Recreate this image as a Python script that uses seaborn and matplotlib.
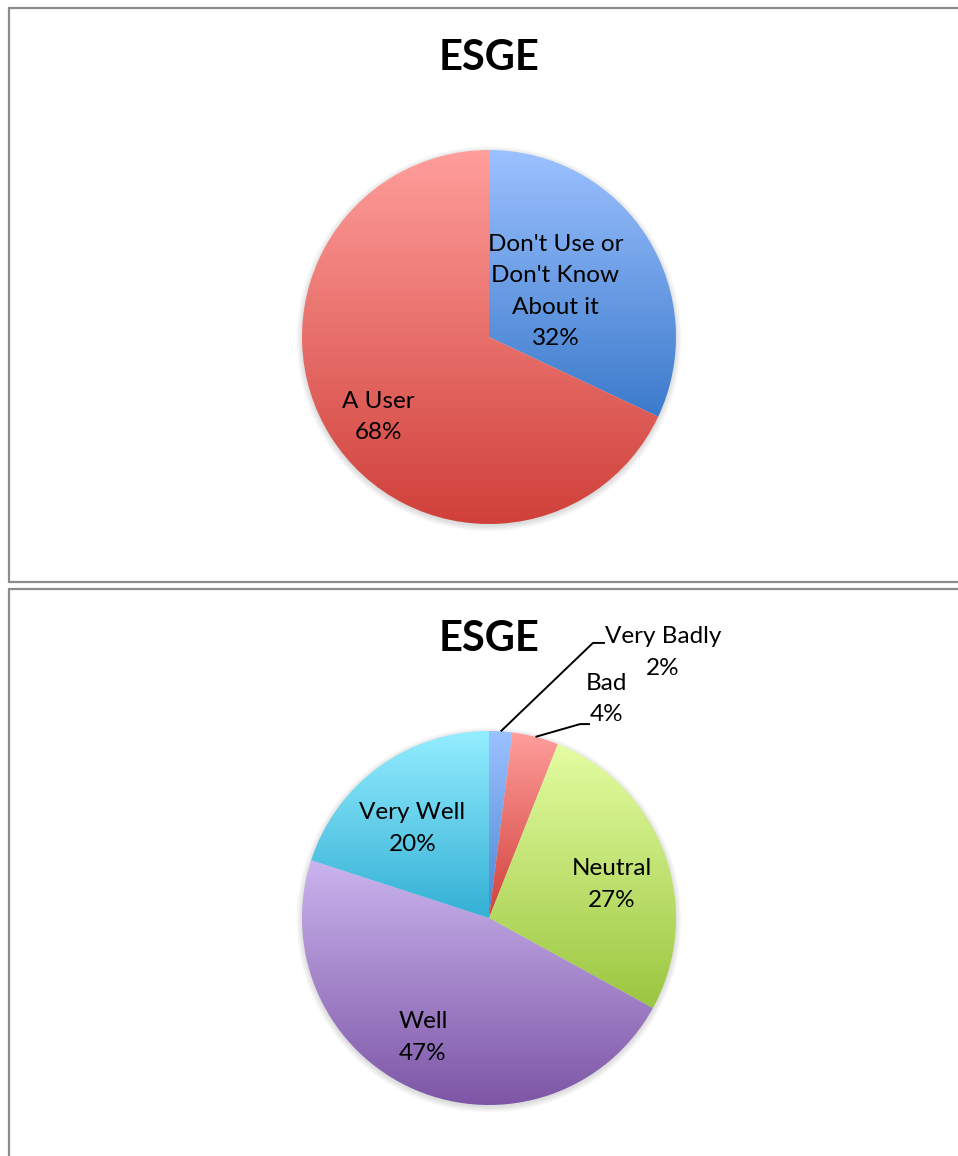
import numpy as np
import matplotlib
matplotlib.use("Agg")
import matplotlib.pyplot as plt
from matplotlib.patches import Circle
from matplotlib.lines import Line2D
import seaborn as sns

# Chart data
title = "ESGE"

usage_labels = ["Don't Use or\nDon't Know\nAbout it", "A User"]
usage_values = [32, 68]
usage_top = ["#9cc1ff", "#ff9e9b"]
usage_bottom = ["#3b7acb", "#d0403a"]

rating_labels = ["Very Badly", "Bad", "Neutral", "Well", "Very Well"]
rating_values = [2, 4, 27, 47, 20]
rating_top = ["#9cc1ff", "#ff9e9b", "#e4fda2", "#cab4ee", "#94edff"]
rating_bottom = ["#4a86d2", "#d0403a", "#9bc63f", "#7d56a6", "#33b0d5"]

W, H, DPI = 958, 1156, 100
R_PX = 187  # pie radius in pixels
LABEL_SIZE = 17.5
LINE_SP = 1.6

sns.set_theme(style="white")
plt.rcParams["font.family"] = ["Lato", "DejaVu Sans"]

fig = plt.figure(figsize=(W / DPI, H / DPI), dpi=DPI)


# Axes spanning one panel; 1 data unit = pie radius, pie centred at 0,0
def make_axes(top_px, bottom_px, cx_px, cy_px):
    ax = fig.add_axes([0, 1 - bottom_px / H, 1, (bottom_px - top_px) / H])
    limits = dict(
        xlim=(-cx_px / R_PX, (W - cx_px) / R_PX),
        ylim=(-(bottom_px - cy_px) / R_PX, (cy_px - top_px) / R_PX),
    )
    return ax, limits


# Vertical gradient fill clipped to each wedge (Excel-like shading)
def shade(ax, wedge, top, bottom):
    ext = wedge.get_path().get_extents()
    cmap = sns.blend_palette([top, bottom], n_colors=256, as_cmap=True)
    grad = np.linspace(0, 1, 256).reshape(-1, 1)
    im = ax.imshow(grad, cmap=cmap, extent=(ext.x0, ext.x1, ext.y0, ext.y1),
                   origin="upper", aspect="auto", interpolation="bilinear", zorder=1)
    im.set_clip_path(wedge)
    wedge.set_facecolor("none")
    wedge.set_edgecolor("none")


def soft_shadow(ax):
    for i in range(7):
        ax.add_patch(Circle((0, -0.01), 1 + 0.005 * i, color="black",
                            alpha=0.02, lw=0, zorder=0))


def draw_pie(ax, limits, values, tops, bottoms):
    soft_shadow(ax)
    wedges, _ = ax.pie(values, startangle=90, counterclock=False, radius=1,
                       center=(0, 0))
    for w, t, b in zip(wedges, tops, bottoms):
        shade(ax, w, t, b)
    ax.set(**limits)
    ax.set_aspect("auto")
    ax.axis("off")
    return wedges


def inside_label(ax, wedge, text, r, nudge=0):
    ang = np.deg2rad((wedge.theta1 + wedge.theta2) / 2 + nudge)
    ax.text(r * np.cos(ang), r * np.sin(ang), text, ha="center", va="center",
            fontsize=LABEL_SIZE, linespacing=LINE_SP, color="black", zorder=5)


def fmt(label, value):
    return f"{label}\n{value}%"


# ---- top panel ----
ax1, lim1 = make_axes(0, 585, 489, 337)
w1 = draw_pie(ax1, lim1, usage_values, usage_top, usage_bottom)
inside_label(ax1, w1[0], fmt(usage_labels[0], usage_values[0]), 0.43, 2)
inside_label(ax1, w1[1], fmt(usage_labels[1], usage_values[1]), 0.73, 3.6)

# ---- bottom panel ----
ax2, lim2 = make_axes(585, H, 489, 918)
w2 = draw_pie(ax2, lim2, rating_values, rating_top, rating_bottom)
inside_label(ax2, w2[2], fmt(rating_labels[2], rating_values[2]), 0.68, -4.5)
inside_label(ax2, w2[3], fmt(rating_labels[3], rating_values[3]), 0.73, -5.5)
inside_label(ax2, w2[4], fmt(rating_labels[4], rating_values[4]), 0.63, 4.5)

# outside labels with leader lines for the two small slices
outside = [
    (w2[0], fmt(rating_labels[0], rating_values[0]), (0.93, 1.42), (0.556, 0.620, 1.471)),
    (w2[1], fmt(rating_labels[1], rating_values[1]), (0.63, 1.17), (0.487, 0.540, 1.037)),
]
for wedge, text, (tx, ty), (ex, ax_x, ly) in outside:
    ang = np.deg2rad((wedge.theta1 + wedge.theta2) / 2)
    px, py = np.cos(ang), np.sin(ang)
    ax2.plot([px, ex, ax_x], [py, ly, ly], color="black", lw=1.4, zorder=4,
             solid_capstyle="butt")
    ax2.text(tx, ty, text, ha="center", va="center", fontsize=LABEL_SIZE,
             linespacing=LINE_SP, color="black", zorder=5)

# titles
for ypx in (58, 639):
    fig.text(489 / W, 1 - ypx / H, title, ha="center", va="center",
             fontsize=30, fontweight="bold", color="black")

# panel borders
border = dict(color="#8c8c8c", lw=1.6, transform=fig.transFigure)
fig.add_artist(Line2D([9 / W, 9 / W], [1 - 8 / H, 1 - 582 / H], **border))
fig.add_artist(Line2D([9 / W, 1.01], [1 - 8 / H, 1 - 8 / H], **border))
fig.add_artist(Line2D([9 / W, 1.01], [1 - 582 / H, 1 - 582 / H], **border))
fig.add_artist(Line2D([9 / W, 9 / W], [1 - 589 / H, -0.01], **border))
fig.add_artist(Line2D([9 / W, 1.01], [1 - 589 / H, 1 - 589 / H], **border))

fig.savefig("out.png", dpi=DPI, facecolor="white")
